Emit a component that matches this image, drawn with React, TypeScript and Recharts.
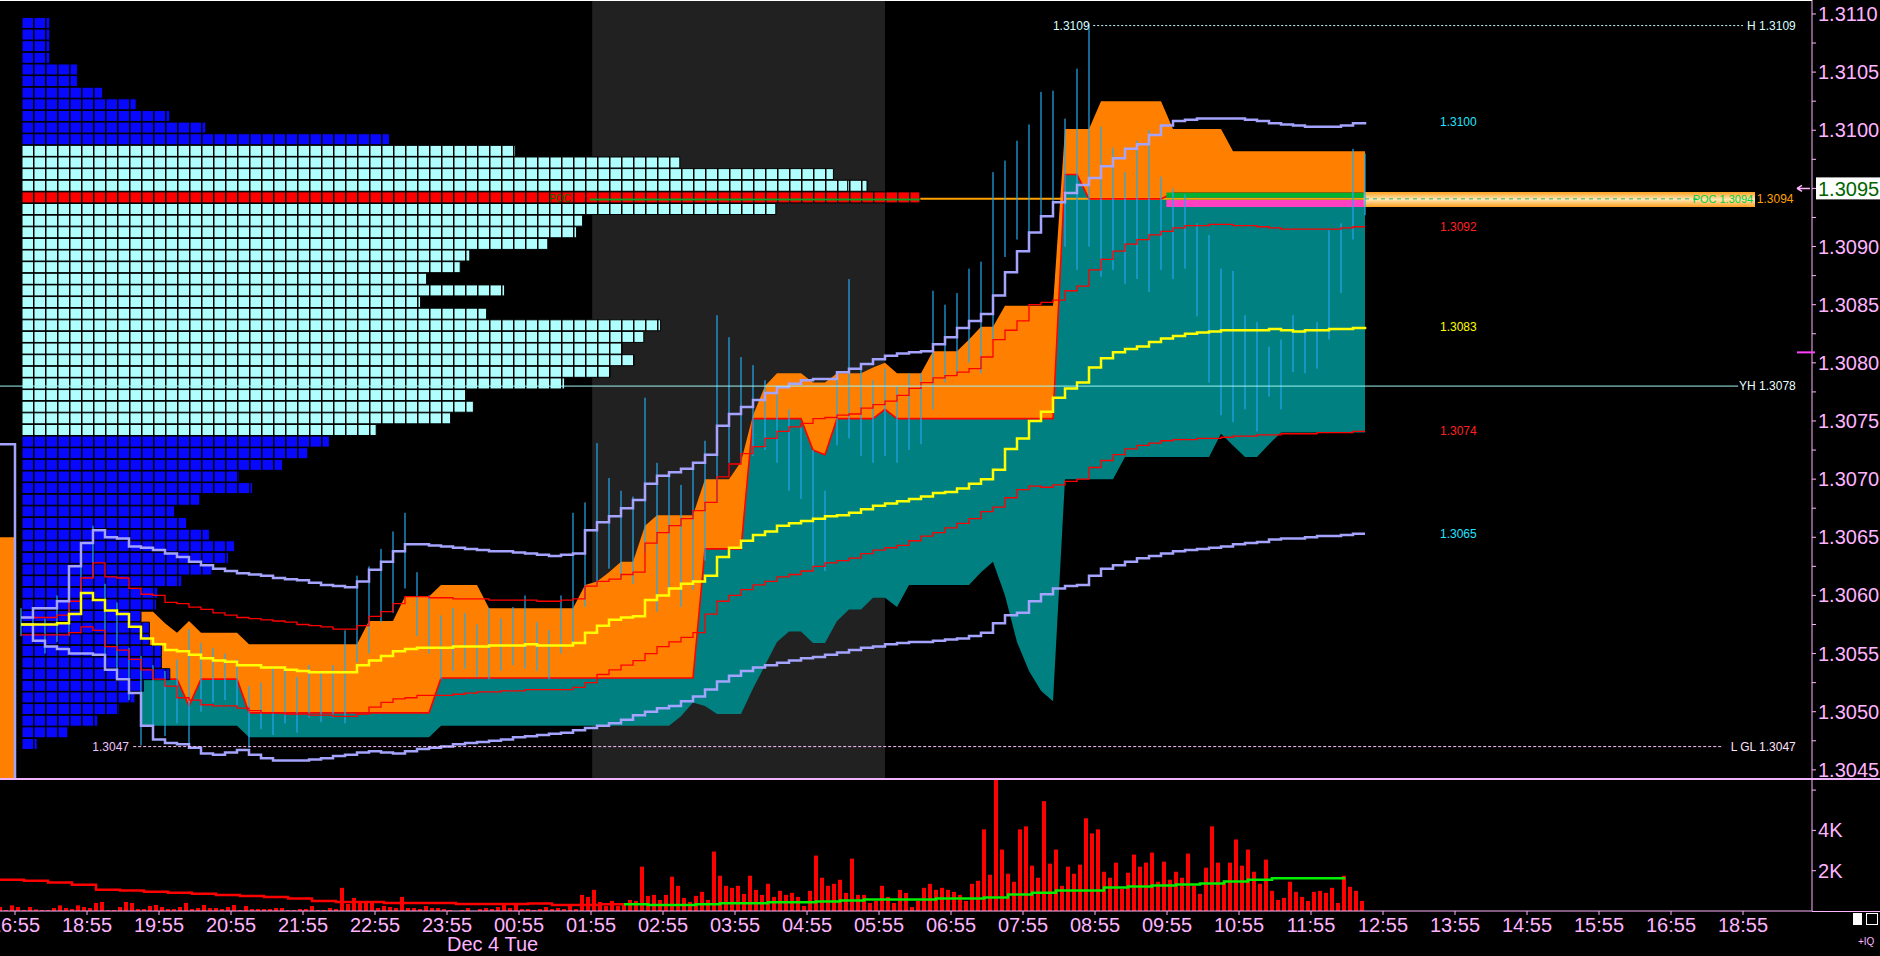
import React from 'react';
import {
  ComposedChart, BarChart, Bar, Line, Area, XAxis, YAxis,
  ReferenceArea, ReferenceLine, ReferenceDot, Cell,
} from 'recharts';

const FONT = 'Liberation Sans, Arial, sans-serif';
const PINK = '#ffb4ff';
const LAVENDER = '#a4a4ff';
const SKY = '#22a8ee';
const TEAL = '#008080';
const ORANGE = '#ff8000';

const W = 1880;
const MAIN_H = 778;
const VOL_H = 177;
const AXIS_W = 68;
const SLOT_DOMAIN: [number, number] = [0, 302];      // 5-minute slots across the plot
const PRICE_DOMAIN: [number, number] = [1.30443, 1.31112];

// 10-minute points from 18:00 to 12:40, pips above 1.3000
const VWAP = [57.5,57.5,57.5,57.6,58.4,60.2,59.6,58.7,58.4,57.3,
  56.3,55.8,55.3,55.2,54.9,54.6,54.4,54.3,54.0,54.0,
  53.8,53.8,53.6,53.5,53.4,53.4,53.4,53.4,54.0,54.4,
  54.8,55.2,55.4,55.5,55.5,55.5,55.6,55.6,55.6,55.7,
  55.7,55.7,55.8,55.7,55.7,55.7,55.9,56.8,57.4,57.9,
  58.1,58.2,59.6,60.0,60.6,61.0,61.2,61.7,63.3,64.1,
  64.7,65.2,65.5,66.0,66.2,66.4,66.6,66.8,66.9,67.1,
  67.4,67.7,67.9,68.1,68.3,68.5,68.8,68.9,69.2,69.6,
  70.0,70.8,72.6,73.5,75.0,75.8,77.0,77.8,78.3,79.6,
  80.4,80.9,81.2,81.4,81.8,82.1,82.3,82.5,82.6,82.7,
  82.8,82.8,82.8,82.8,82.9,82.8,82.7,82.8,82.8,82.9,
  82.9,83.0,83.1];
const UP1 = [58.1,58.1,58.1,58.3,59.5,61.5,62.8,61.6,61.5,60.6,
  60.1,60.0,59.4,59.3,59.0,58.8,58.5,58.3,58.1,58.0,
  57.9,57.8,57.7,57.5,57.4,57.3,57.1,57.1,57.4,58.2,
  58.6,59.3,59.9,59.9,59.8,59.8,59.7,59.7,59.7,59.6,
  59.6,59.6,59.6,59.5,59.5,59.6,59.7,60.8,61.2,61.4,
  61.8,62.0,64.5,65.4,66.0,66.6,67.3,68.0,70.2,71.3,
  72.2,72.8,73.5,74.1,74.5,74.8,75.2,75.3,75.5,75.6,
  76.1,76.4,76.7,77.2,77.8,78.3,78.7,78.9,79.2,79.5,
  80.5,82.0,82.8,83.6,85.0,85.2,85.4,86.2,86.6,88.0,
  88.9,89.6,90.2,90.6,91.0,91.3,91.6,91.8,91.8,91.9,
  91.9,91.8,91.8,91.7,91.6,91.5,91.5,91.5,91.5,91.5,
  91.6,91.7,91.7];
const DN1 = [56.6,56.6,56.6,56.6,56.8,57.3,57.0,55.6,55.3,54.5,
  53.6,52.8,52.2,51.2,51.0,50.6,50.5,50.5,50.3,50.1,
  49.9,49.9,49.8,49.8,49.7,49.7,49.6,49.6,49.8,50.4,
  50.8,51.1,51.2,51.4,51.4,51.4,51.5,51.6,51.7,51.7,
  51.8,51.8,51.9,51.9,51.9,51.9,52.1,52.5,53.2,53.6,
  54.0,54.4,55.0,55.6,56.0,56.4,56.8,58.4,59.5,60.0,
  60.5,60.9,61.2,61.6,61.8,62.1,62.5,62.8,63.0,63.2,
  63.6,63.9,64.1,64.3,64.7,65.1,65.4,65.8,66.2,66.6,
  67.2,67.6,68.4,69.1,69.4,69.3,69.5,69.8,70.0,71.0,
  71.6,72.1,72.6,72.9,73.1,73.3,73.4,73.4,73.5,73.5,
  73.6,73.7,73.7,73.8,73.8,73.9,73.9,73.9,74.0,74.0,
  74.0,74.1,74.1];
const UP2 = [58.1,58.9,58.9,59.5,62.5,64.5,65.6,65.0,64.9,64.2,
  64.1,63.9,63.6,63.3,62.9,62.6,62.3,62.1,61.9,61.8,
  61.7,61.5,61.4,61.3,61.1,60.9,60.8,60.7,61.2,62.2,
  62.9,63.8,64.4,64.4,64.3,64.2,64.1,64.0,63.9,63.8,
  63.8,63.7,63.6,63.5,63.4,63.5,63.6,65.6,66.3,66.8,
  67.5,68.2,69.6,70.3,70.6,70.9,71.4,72.1,74.6,75.6,
  76.2,76.8,77.4,77.9,78.2,78.5,78.6,78.6,79.2,79.5,
  79.9,80.3,80.6,80.8,80.9,81.0,81.6,82.2,83.0,83.6,
  84.2,85.8,87.8,89.6,91.2,92.6,93.8,94.6,95.3,95.9,
  96.9,97.6,98.4,98.8,99.6,100.4,100.8,100.9,101.0,101.0,
  101.0,101.0,100.9,100.8,100.6,100.5,100.4,100.3,100.3,100.3,
  100.4,100.6,100.7];
const DN2 = [57.5,56.1,55.6,55.4,55.0,55.0,54.9,53.6,52.8,51.6,
  48.8,47.6,47.3,47.2,46.9,46.4,46.3,46.5,46.7,46.3,
  46.0,45.8,45.8,45.8,45.9,46.0,46.2,46.3,46.5,46.6,
  46.5,46.4,46.6,46.8,46.9,47.0,47.2,47.3,47.4,47.5,
  47.6,47.8,47.9,48.0,48.1,48.2,48.4,48.6,48.8,49.0,
  49.3,49.7,50.0,50.3,50.5,50.9,51.3,51.9,52.6,53.1,
  53.5,53.8,54.0,54.2,54.4,54.6,54.7,54.9,55.1,55.3,
  55.5,55.6,55.8,55.9,56.0,56.0,56.1,56.2,56.3,56.5,
  56.8,57.6,58.3,58.5,59.5,60.1,60.6,60.8,60.9,61.7,
  62.3,62.6,62.9,63.2,63.4,63.6,63.8,63.9,64.0,64.1,
  64.2,64.4,64.5,64.6,64.8,64.9,64.9,65.0,65.1,65.1,
  65.2,65.3,65.3];
// orange value area top / bottom, teal band bottom
const VA_HI = [59.7,null,null,null,null,null,null,null,58.6,58.6,
  58.6,58.6,57.6,56.8,57.8,56.8,56.8,56.8,56.8,55.8,
  55.8,55.8,55.8,55.8,55.8,55.8,55.8,55.8,55.8,57.8,
  57.8,57.8,59.9,59.9,59.9,60.9,60.9,60.9,60.9,58.9,
  58.9,58.9,58.9,58.9,58.9,58.9,58.9,60.9,61.2,62.0,
  62.9,62.9,66.0,66.9,66.9,66.9,66.9,70.0,70.0,70.0,
  71.5,75.5,78.0,79.1,79.1,79.1,78.3,78.3,79.1,79.1,
  79.1,79.6,80.0,79.1,79.1,79.1,81.0,81.0,81.0,82.0,
  83.1,83.1,84.9,84.9,84.9,84.9,84.9,100.1,100.1,100.1,
  102.5,102.5,102.5,102.5,102.5,102.5,100.1,100.1,100.1,100.1,
  100.1,98.2,98.2,98.2,98.2,98.2,98.2,98.2,98.2,98.2,
  98.2,98.2,98.2];
const VA_LO = [58.7,null,null,null,null,null,null,null,52.8,52.8,
  52.8,52.8,52.8,52.8,50.5,52.8,52.8,52.8,52.8,49.9,
  49.9,49.9,49.9,49.9,49.9,49.9,49.9,49.9,49.9,49.9,
  49.9,49.9,49.9,49.9,49.9,52.9,52.9,52.9,52.9,52.9,
  52.9,52.9,52.9,52.9,52.9,52.9,52.9,52.9,52.9,52.9,
  52.9,52.9,52.9,52.9,52.9,52.9,52.9,64.0,64.0,64.0,
  64.0,75.2,75.2,75.2,75.2,75.2,72.5,72.1,75.2,75.2,
  75.2,75.2,76.0,75.2,75.2,75.2,75.2,75.2,75.2,75.2,
  75.2,75.2,75.2,75.2,75.2,75.2,75.2,96.2,96.2,94.1,
  94.1,94.1,94.1,94.1,94.1,94.1,94.6,94.6,94.6,94.6,
  94.6,94.6,94.6,94.6,94.6,94.6,94.6,94.6,94.6,94.6,
  94.6,94.6,94.6];
const BAND_LO = [null,null,null,null,null,null,null,null,null,null,
  48.8,48.8,48.8,48.8,48.8,48.8,48.8,48.8,48.8,47.8,
  47.8,47.8,47.8,47.8,47.8,47.8,47.8,47.8,47.8,47.8,
  47.8,47.8,47.8,47.8,47.8,48.8,48.8,48.8,48.8,48.8,
  48.8,48.8,48.8,48.8,48.8,48.8,48.8,48.8,48.8,48.8,
  48.8,48.8,48.8,48.8,48.8,49.6,50.8,50.5,49.8,49.8,
  49.8,52.0,54.0,56.0,56.9,56.9,55.9,55.9,57.8,58.8,
  58.8,59.8,59.8,59.0,60.9,60.9,60.9,60.9,60.9,60.9,
  62.0,62.9,60.0,56.0,53.5,51.8,50.9,70.0,70.0,70.0,
  70.0,70.0,71.9,71.9,71.9,71.9,71.9,71.9,71.9,71.9,
  73.9,72.9,71.9,71.9,73.0,74.0,74.0,74.0,74.0,74.0,
  74.0,74.0,74.0];
// price bar range per 10 minutes
const BAR_HI = [58.9,58.3,58.0,60.0,61.7,64.3,66.0,61.0,59.4,55.5,
  54.8,54.0,53.5,54.5,57.1,55.9,55.5,55.0,54.5,52.2,
  52.5,53.7,53.5,53.0,54.0,53.5,54.0,57.0,61.7,62.5,
  64.0,65.5,67.1,62.0,60.0,58.3,58.9,58.5,57.5,58.9,
  58.0,59.0,60.0,57.7,57.0,60.0,67.1,68.0,73.1,70.1,
  69.0,68.5,77.0,71.4,70.5,69.5,71.0,73.3,84.1,82.2,
  80.5,79.8,78.5,77.5,76.0,74.5,72.5,69.0,79.1,87.2,
  79.8,78.5,79.5,78.0,79.1,79.1,86.2,85.0,86.0,88.1,
  88.7,96.4,97.4,99.1,100.5,103.3,103.4,101.0,105.3,109.2,
  100.3,98.5,96.4,99.1,100.0,96.0,95.0,94.5,92.0,91.0,
  88.1,87.9,84.1,83.5,81.4,82.0,84.1,82.9,83.5,91.4,
  92.0,98.4,98.0];
const BAR_LO = [56.5,56.0,55.0,56.0,56.5,58.6,61.5,55.0,52.8,51.0,
  47.1,48.5,47.9,49.0,47.0,50.0,50.8,51.0,50.5,46.9,
  48.5,48.0,49.0,48.2,49.5,49.1,49.5,49.0,54.2,55.0,
  57.7,58.5,60.6,56.5,55.0,52.8,53.5,53.7,53.0,52.8,
  53.5,54.0,53.7,53.5,52.8,55.0,55.9,59.0,61.0,62.3,
  61.5,61.0,63.6,58.6,60.0,59.0,60.5,63.0,68.0,71.4,
  71.4,72.0,72.5,71.4,69.0,68.3,62.1,62.1,72.9,73.5,
  72.0,71.4,72.0,71.4,72.5,73.0,76.0,78.3,79.0,80.0,
  79.1,82.0,89.1,90.6,90.1,92.6,93.0,90.0,88.0,90.0,
  87.4,88.0,86.8,87.2,86.1,88.0,87.2,88.1,84.0,78.3,
  75.5,74.9,76.0,74.1,77.1,76.0,79.2,79.1,79.5,82.0,
  86.0,90.6,92.7];

// 5-minute volume, thousands
const VOLUME = [0.20,0.05,0.28,0.20,0.05,0.20,0.08,0.05,0.05,0.15,
  0.28,0.15,0.10,0.28,0.20,0.15,0.40,0.45,0.05,0.05,
  0.20,0.45,0.40,0.10,0.10,0.25,0.30,0.20,0.10,0.10,
  0.20,0.40,0.10,0.15,0.30,0.15,0.15,0.10,0.20,0.30,
  0.05,0.25,0.10,0.10,0.10,0.10,0.15,0.15,0.05,0.05,
  0.10,0.10,0.25,0.05,0.05,0.15,0.10,1.15,0.35,0.65,
  0.45,0.45,0.45,0.15,0.25,0.20,0.15,0.70,0.15,0.15,
  0.10,0.25,0.15,0.15,0.10,0.05,0,0.05,0.15,0,
  0.10,0.15,0.10,0.20,0.35,0.15,0.30,0.10,0.10,0.05,
  0.10,0.20,0.10,0.15,0.10,0.25,0.10,0.80,0.70,1.05,
  0.45,0.25,0.50,0.25,0.35,0.55,0.50,2.20,0.75,0.80,
  0.55,0.80,1.70,1.25,0.65,0.45,0.75,0.95,0.55,2.95,
  1.75,1.25,1.15,1.25,0.85,1.75,1.05,0.80,1.35,0.70,
  1.00,0.80,0.90,0.70,0.25,1.00,2.75,1.65,1.25,1.35,
  1.55,0.90,2.60,0.80,0.80,0.40,0.50,1.25,0.70,0.40,
  1.05,0.90,0.20,0.50,1.15,1.35,1.05,1.15,1.05,0.95,
  0.80,0.50,1.35,1.50,4.05,1.80,6.50,3.05,1.85,1.45,
  4.05,4.20,2.25,1.65,5.45,2.35,3.05,1.25,2.20,1.85,
  2.30,4.60,3.85,4.05,1.95,1.65,2.40,1.10,1.90,2.80,
  2.20,2.40,2.90,1.45,2.45,1.55,1.95,1.65,2.85,1.25,
  0.85,2.15,4.20,2.40,1.45,2.40,3.55,2.25,3.05,1.95,
  1.35,2.55,1.00,0.55,0.65,1.45,0.95,0.70,0.50,0.95,
  1.00,0.90,1.15,0.40,1.75,1.20,1.00,0.50];
// volume average, one value per 4 bars
const VOL_MA = [1.55,1.50,1.42,1.30,1.05,1.02,0.95,0.90,0.85,0.80,
  0.75,0.70,0.62,0.50,0.45,0.45,0.40,0.40,0.40,0.35,
  0.35,0.35,0.37,0.30,0.30,0.33,0.33,0.30,0.30,0.33,
  0.38,0.38,0.43,0.43,0.47,0.52,0.57,0.57,0.57,0.62,
  0.62,0.67,0.82,0.90,1.02,1.02,1.17,1.22,1.27,1.32,
  1.37,1.47,1.55,1.62,1.62,1.62,1.67];
const MA_TURN = 26; // red before, green after

// volume profile rows from 1.3109 down to 1.3047, length in cells
const PROFILE = [2.4,2.4,2.4,2.4,4.7,4.7,6.8,9.6,12.4,15.4,
  30.7,41.2,54.9,67.7,68.9,74.9,62.9,46.8,46.3,43.9,
  37.4,36.6,33.8,40.3,33.3,38.8,53.3,51.9,50.1,51.1,
  49.1,45.3,37.1,37.7,35.8,29.6,25.7,23.9,21.8,18.2,
  19.3,14.9,12.8,13.8,15.7,17.8,17.3,15.9,13.4,11.4,
  11.3,10.0,10.7,10.7,11.7,11.7,12.4,10.2,9.5,8.2,
  6.4,3.9,1.35];
const PROFILE_TOP = 109;
const VALUE_AREA_ROWS = [11, 35];
const POC_ROW = 15;
const LAST_TRADE_CELL = { row: 14, cells: 1.6 };  // red cell on the 1.3095 row

const TIME_LABELS = ['16:55','18:55','19:55','20:55','21:55','22:55','23:55','00:55','01:55','02:55',
  '03:55','04:55','05:55','06:55','07:55','08:55','09:55','10:55','11:55','12:55',
  '13:55','14:55','15:55','16:55','18:55'];
const TIME_SLOTS = [2,14,26,38,50,62,74,86,98,110,122,134,146,158,170,182,194,206,218,230,242,254,266,278,290];
const DATE_MARK = { slot: 74.5, text: 'Dec 4 Tue' };
const PRICE_LABELS = ['1.3045','1.3050','1.3055','1.3060','1.3065','1.3070','1.3075',
  '1.3080','1.3085','1.3090','1.3095','1.3100','1.3105','1.3110'];

const LEVELS = { high: 1.3109, low: 1.3047, yHigh: 1.3078, poc: 1.30941, last: 1.3095, mark: 1.30809 };
const PREV_SESSION = { lav: 73, top: 65, bottom: 44.3, end: 2.5 };
const SHADE = { from: 98.7, to: 147.5 };
const END_LABELS = [
  { text: '1.3100', series: UP2, color: '#22e4ff' },
  { text: '1.3092', series: UP1, color: '#ff2020' },
  { text: '1.3083', series: VWAP, color: '#ffff00' },
  { text: '1.3074', series: DN1, color: '#ff2020' },
  { text: '1.3065', series: DN2, color: '#22e4ff' },
];

const p = (v?: number | null) => (v == null ? null : +(1.3 + v / 10000).toFixed(6));

const kRows = VWAP.map((v, k) => ({
  x: 3.5 + 2 * k,
  vwap: p(v), up1: p(UP1[k]), dn1: p(DN1[k]), up2: p(UP2[k]), dn2: p(DN2[k]),
  va: VA_HI[k] == null ? null : [p(VA_LO[k]), p(VA_HI[k])],
  vaLo: p(VA_LO[k]),
  band: BAND_LO[k] == null ? null : [p(BAND_LO[k]), p(VA_LO[k])],
  bar: [p(BAR_LO[k]), p(BAR_HI[k])],
}));
const prevStrip = [p(PREV_SESSION.bottom), p(PREV_SESSION.top)];
const areaRows: any[] = [
  { x: 0, strip: prevStrip, prevLav: p(PREV_SESSION.lav) },
  { x: PREV_SESSION.end, strip: prevStrip, prevLav: p(PREV_SESSION.lav) },
  { x: PREV_SESSION.end, prevLav: p(PREV_SESSION.bottom) },
  ...kRows,
];
const volRows = VOLUME.map((v, s) => {
  const i = s / 4;
  const on = s % 4 === 0 && i < VOL_MA.length;
  return {
    x: s, vol: v,
    maRed: on && i <= MA_TURN ? VOL_MA[i] : null,
    maGreen: on && i >= MA_TURN ? VOL_MA[i] : null,
  };
});
const profileRows = PROFILE.map((w, i) => ({
  p: p(PROFILE_TOP - i + 0.2),
  w,
  tail: i === LAST_TRADE_CELL.row ? LAST_TRADE_CELL.cells : 0,
  fill: i === POC_ROW ? 'url(#pfRed)'
    : i >= VALUE_AREA_ROWS[0] && i <= VALUE_AREA_ROWS[1] ? 'url(#pfCyan)' : 'url(#pfBlue)',
}));
const MAJOR = PRICE_LABELS.map(Number);
const PRICE_TICKS = MAJOR.flatMap((v, i) => (i === 0 ? [v] : [(v + MAJOR[i - 1]) / 2, v]));
const TIME_TICKS = TIME_SLOTS.map((s) => s + 0.5);

const PriceTick = ({ x, y, payload }: any) => {
  const label = PRICE_LABELS.find((l) => Math.abs(Number(l) - payload.value) < 1e-7);
  // the last-price box replaces its own tick label
  if (!label || Number(label) === LEVELS.last) return <g />;
  return <text x={x} y={y} fill={PINK} fontSize={20} fontFamily={FONT} dominantBaseline="central">{label}</text>;
};
const VolTick = ({ x, y, payload }: any) => (
  payload.value >= 6 ? <g /> :
  <text x={x} y={y} fill={PINK} fontSize={20} fontFamily={FONT} dominantBaseline="central">{payload.value}K</text>
);
const TimeTick = ({ x, y, payload }: any) => (
  <text x={x} y={y + 10} fill={PINK} fontSize={20} fontFamily={FONT} textAnchor="middle" dominantBaseline="central">
    {TIME_LABELS[TIME_SLOTS.indexOf(payload.value - 0.5)]}
  </text>
);
const PriceBar = (props: any) => {
  const { x, y, width, height } = props;
  if (y == null || isNaN(y) || height == null) return <g />;
  return <rect x={x + width / 2 - 0.6} y={y} width={1.2} height={Math.max(height, 1)} fill={SKY} />;
};
const label = (text: string, color: string, anchor: 'start' | 'end' = 'start', size = 12) => (pr: any) => (
  <text x={pr.cx} y={pr.cy} fill={color} fontSize={size} fontFamily={FONT} textAnchor={anchor} dominantBaseline="central">{text}</text>
);

const hiddenAxes = (
  [<XAxis key="x" type="number" dataKey="x" domain={SLOT_DOMAIN} allowDataOverflow hide />,
   <YAxis key="y" type="number" domain={PRICE_DOMAIN} allowDataOverflow hide />]
);
const layer = (top: number): React.CSSProperties => ({ position: 'absolute', left: 0, top });

export default function App() {
  return (
    <div style={{ position: 'fixed', left: 0, top: 0, width: W, height: 956, background: '#000', overflow: 'hidden', fontFamily: FONT }}>
      <svg width={0} height={0} style={{ position: 'absolute' }}>
        <defs>
          {[['pfBlue', '#0808ff'], ['pfCyan', '#b0ffff'], ['pfRed', '#ff0000']].map(([id, c]) => (
            <pattern key={id} id={id} patternUnits="userSpaceOnUse" x={21} y={0} width={12} height={12}>
              <rect width={12} height={12} fill={c} />
              <rect width={1.5} height={12} fill="#000" />
            </pattern>
          ))}
          <linearGradient id="pocGlow" x1="0" y1="0" x2="0" y2="1">
            <stop offset="0%" stopColor="#ffa020" />
            <stop offset="50%" stopColor="#ffe6b0" />
            <stop offset="100%" stopColor="#ffa020" />
          </linearGradient>
        </defs>
      </svg>

      {/* overnight shading */}
      <div style={layer(0)}>
        <ComposedChart width={W} height={MAIN_H} data={kRows} margin={{ top: 0, right: AXIS_W, bottom: 0, left: 0 }}>
          {hiddenAxes}
          <ReferenceArea x1={SHADE.from} x2={SHADE.to} fill="#212121" fillOpacity={1} stroke="none" />
        </ComposedChart>
      </div>

      {/* value area bands */}
      <div style={layer(0)}>
        <ComposedChart width={W} height={MAIN_H} data={areaRows} margin={{ top: 0, right: AXIS_W, bottom: 0, left: 0 }}>
          {hiddenAxes}
          <ReferenceLine segment={[{ x: 92.8, y: LEVELS.poc }, { x: 227.5, y: LEVELS.poc }]} stroke="#ffa000" strokeWidth={2} />
          <Area type="linear" dataKey="strip" stroke="none" fill={ORANGE} fillOpacity={1} isAnimationActive={false} />
          <Area type="linear" dataKey="band" stroke="none" fill={TEAL} fillOpacity={1} isAnimationActive={false} />
          <Area type="linear" dataKey="va" stroke="none" fill={ORANGE} fillOpacity={1} isAnimationActive={false} />
          <Line type="linear" dataKey="vaLo" stroke="#ff0000" strokeWidth={1.6} dot={false} isAnimationActive={false} />
          <Line type="linear" dataKey="prevLav" stroke={LAVENDER} strokeWidth={2.5} dot={false} isAnimationActive={false} />
        </ComposedChart>
      </div>

      {/* volume profile */}
      <div style={layer(0)}>
        <BarChart layout="vertical" width={W} height={MAIN_H} data={profileRows} margin={{ top: 0, right: 0, bottom: 0, left: 0 }}>
          <XAxis type="number" domain={[-21 / 12, (W - 21) / 12]} allowDataOverflow hide />
          <YAxis type="number" dataKey="p" domain={PRICE_DOMAIN} allowDataOverflow reversed hide />
          <Bar dataKey="w" stackId="pf" barSize={11} stroke="#000" strokeWidth={1} isAnimationActive={false}>
            {profileRows.map((r, i) => <Cell key={i} fill={r.fill} />)}
          </Bar>
          <Bar dataKey="tail" stackId="pf" barSize={11} stroke="#000" strokeWidth={1} fill="url(#pfRed)" isAnimationActive={false} />
        </BarChart>
      </div>

      {/* price bars, VWAP bands, levels, price axis */}
      <div style={layer(0)}>
        <ComposedChart width={W} height={MAIN_H} data={kRows} margin={{ top: 0, right: 0, bottom: 0, left: 0 }}>
          <XAxis type="number" dataKey="x" domain={SLOT_DOMAIN} allowDataOverflow hide />
          <YAxis orientation="right" type="number" domain={PRICE_DOMAIN} allowDataOverflow width={AXIS_W}
            ticks={PRICE_TICKS} interval={0} tickSize={4} tickMargin={2}
            axisLine={{ stroke: PINK }} tickLine={{ stroke: PINK }} tick={(pr: any) => <PriceTick {...pr} />} />
          <ReferenceArea x1={194.4} x2={227.5} y1={1.309422} y2={1.309465} fill="#00b030" fillOpacity={1} stroke="none" />
          <ReferenceArea x1={194.4} x2={227.5} y1={1.30934} y2={1.3094} fill="#ff40c0" fillOpacity={1} stroke="none" />
          <ReferenceArea x1={227.3} x2={292.5} y1={1.30934} y2={1.30947} fill="url(#pocGlow)" fillOpacity={1} stroke="none" ifOverflow="visible" />
          <ReferenceLine segment={[{ x: 227.5, y: LEVELS.poc }, { x: 283, y: LEVELS.poc }]} stroke="#30b080" strokeDasharray="4 4" />
          <ReferenceLine segment={[{ x: 98.3, y: 1.309405 }, { x: 153.3, y: 1.309405 }]} stroke="#10a020" strokeWidth={2} />
          <Bar dataKey="bar" barSize={2} shape={(pr: any) => <PriceBar {...pr} />} isAnimationActive={false} />
          <Line type="stepAfter" dataKey="up1" stroke="#ff0000" strokeWidth={1.3} dot={false} isAnimationActive={false} />
          <Line type="stepAfter" dataKey="dn1" stroke="#ff0000" strokeWidth={1.3} dot={false} isAnimationActive={false} />
          <Line type="stepAfter" dataKey="up2" stroke={LAVENDER} strokeWidth={2.5} dot={false} isAnimationActive={false} />
          <Line type="stepAfter" dataKey="dn2" stroke={LAVENDER} strokeWidth={2.5} dot={false} isAnimationActive={false} />
          <Line type="stepAfter" dataKey="vwap" stroke="#ffff00" strokeWidth={2.5} dot={false} isAnimationActive={false} />
          <ReferenceLine segment={[{ x: 182.2, y: LEVELS.high }, { x: 290.5, y: LEVELS.high }]} stroke="#c8ffff" strokeDasharray="2 2" />
          <ReferenceLine segment={[{ x: 0, y: LEVELS.yHigh }, { x: 289.7, y: LEVELS.yHigh }]} stroke="#a0f4f4" />
          <ReferenceLine segment={[{ x: 22.2, y: LEVELS.low }, { x: 287, y: LEVELS.low }]} stroke="#ffc0ff" strokeDasharray="3 2" />
          <ReferenceDot x={181.6} y={LEVELS.high} r={0} ifOverflow="visible" shape={label('1.3109', '#d8ffff', 'end')} />
          <ReferenceDot x={299.3} y={LEVELS.high} r={0} ifOverflow="visible" shape={label('H 1.3109', '#d8ffff', 'end')} />
          <ReferenceDot x={299.3} y={LEVELS.yHigh} r={0} ifOverflow="visible" shape={label('YH 1.3078', '#e8ffff', 'end')} />
          <ReferenceDot x={299.3} y={LEVELS.low} r={0} ifOverflow="visible" shape={label('L GL 1.3047', '#ffe4ff', 'end')} />
          <ReferenceDot x={21.5} y={LEVELS.low} r={0} ifOverflow="visible" shape={label('1.3047', '#f0c4ff', 'end')} />
          <ReferenceDot x={91.5} y={LEVELS.poc} r={0} ifOverflow="visible" shape={label('POC', '#006a00', 'start', 10)} />
          <ReferenceDot x={292.2} y={LEVELS.poc} r={0} ifOverflow="visible" shape={label('POC 1.3094', '#00d040', 'end', 11)} />
          <ReferenceDot x={292.8} y={LEVELS.poc} r={0} ifOverflow="visible" shape={label('1.3094', '#ffa000', 'start')} />
          {END_LABELS.map((l) => (
            <ReferenceDot key={l.text} x={240} y={p(l.series[l.series.length - 1]) as number} r={0} ifOverflow="visible" shape={label(l.text, l.color)} />
          ))}
          <ReferenceDot x={302} y={LEVELS.mark} r={0} ifOverflow="visible"
            shape={(pr: any) => <path d={`M${pr.cx - 15} ${pr.cy}H${pr.cx + 3}`} stroke="#ff40ff" strokeWidth={2} />} />
          <ReferenceDot x={302} y={LEVELS.last} r={0} ifOverflow="visible" shape={(pr: any) => (
            <g>
              <path d={`M${pr.cx - 15} ${pr.cy}H${pr.cx - 2}M${pr.cx - 15} ${pr.cy}l5 -3M${pr.cx - 15} ${pr.cy}l5 3`} stroke={PINK} strokeWidth={1.5} fill="none" />
              <rect x={pr.cx + 4} y={pr.cy - 11} width={64} height={22} fill="#fff" />
              <text x={pr.cx + 6} y={pr.cy + 1} fill="#006400" fontSize={20} fontFamily={FONT} dominantBaseline="central">1.3095</text>
            </g>
          )} />
        </ComposedChart>
      </div>

      {/* frame lines */}
      <div style={{ position: 'absolute', left: 0, top: 0, width: 1812, height: 1, background: '#fff' }} />
      <div style={{ position: 'absolute', left: 0, top: 778, width: W, height: 1.5, background: '#f0b4ff' }} />
      <div style={{ position: 'absolute', left: 1812, top: 911, width: 68, height: 1, background: PINK }} />

      {/* volume pane and time axis */}
      <div style={layer(779)}>
        <ComposedChart width={W} height={VOL_H} data={volRows} margin={{ top: 0, right: 0, bottom: 0, left: 0 }}>
          <XAxis type="number" dataKey="x" domain={SLOT_DOMAIN} allowDataOverflow ticks={TIME_TICKS} interval={0}
            height={45} tickSize={4} tickMargin={0} axisLine={{ stroke: PINK }} tickLine={{ stroke: PINK }}
            tick={(pr: any) => <TimeTick {...pr} />} />
          <YAxis orientation="right" type="number" domain={[0, 6.55]} allowDataOverflow width={AXIS_W}
            ticks={[2, 4, 6]} interval={0} tickSize={4} tickMargin={2}
            axisLine={{ stroke: PINK }} tickLine={{ stroke: PINK }} tick={(pr: any) => <VolTick {...pr} />} />
          <Bar dataKey="vol" barSize={4} fill="#ff0000" isAnimationActive={false} />
          <Line type="stepAfter" dataKey="maRed" stroke="#ff0000" strokeWidth={2.5} dot={false} connectNulls isAnimationActive={false} />
          <Line type="stepAfter" dataKey="maGreen" stroke="#00f000" strokeWidth={2.5} dot={false} connectNulls isAnimationActive={false} />
          <ReferenceDot x={DATE_MARK.slot} y={0} r={0} ifOverflow="visible"
            shape={(pr: any) => <text x={pr.cx} y={pr.cy + 33} fill={PINK} fontSize={20} fontFamily={FONT} dominantBaseline="central">{DATE_MARK.text}</text>} />
        </ComposedChart>
      </div>

      <div style={{ position: 'absolute', left: 1853, top: 913, width: 9, height: 12, background: '#fff' }} />
      <div style={{ position: 'absolute', left: 1866, top: 913, width: 10, height: 10, border: '1px solid #fff' }} />
      <div style={{ position: 'absolute', left: 1858, top: 936, color: PINK, fontSize: 10 }}>+IQ</div>
    </div>
  );
}
